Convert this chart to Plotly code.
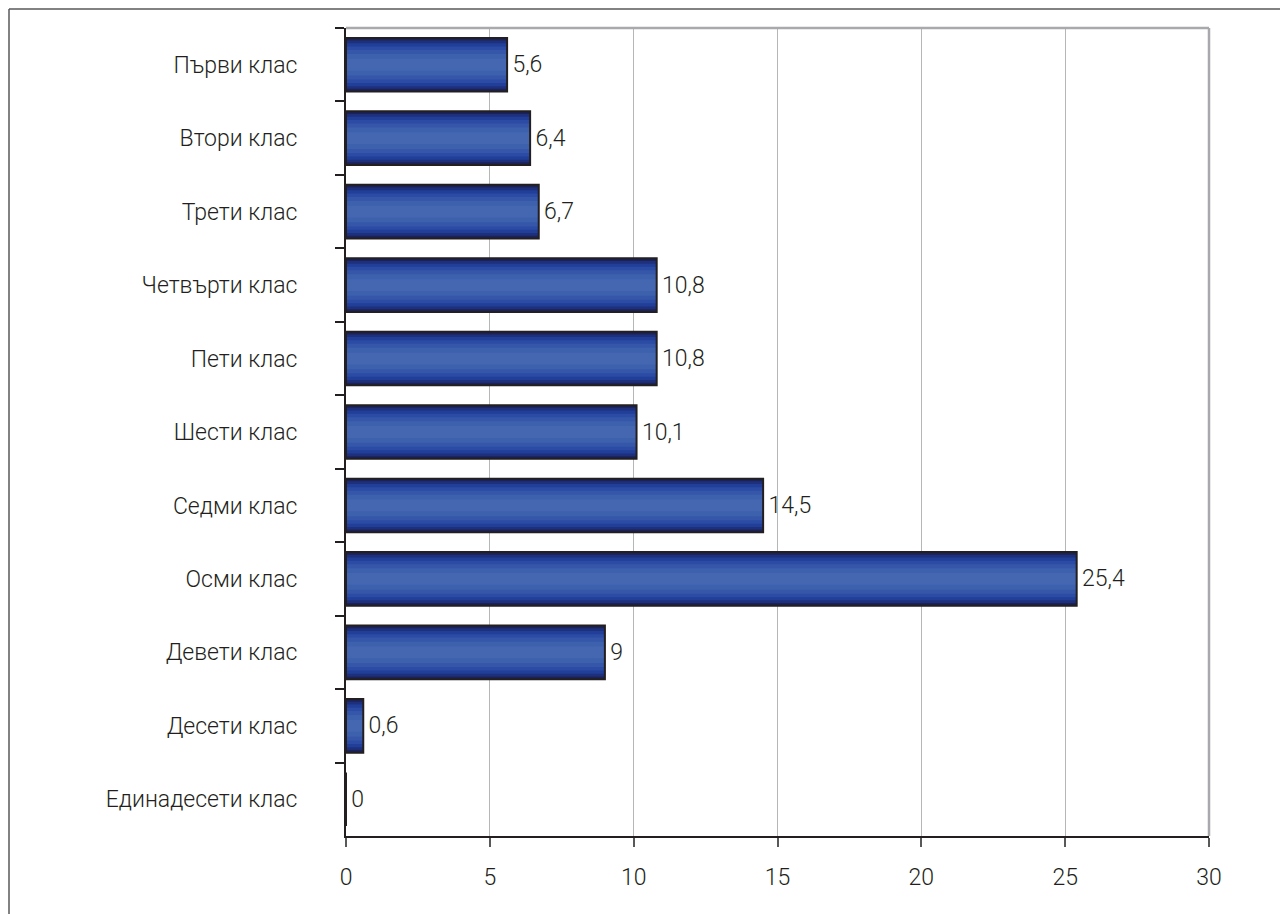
import plotly.graph_objects as go

# Share of pupils by grade
categories = [
    "Първи клас", "Втори клас", "Трети клас", "Четвърти клас", "Пети клас",
    "Шести клас", "Седми клас", "Осми клас", "Девети клас", "Десети клас",
    "Единадесети клас",
]
values = [5.6, 6.4, 6.7, 10.8, 10.8, 10.1, 14.5, 25.4, 9, 0.6, 0]
x_ticks = [0, 5, 10, 15, 20, 25, 30]

FONT = "Roboto, Liberation Sans, sans-serif"
FSIZE = 23
TEXT = "#231f20"
BAR_WIDTH = 0.73

# Shading layers for the cylinder-like bars: (fraction of full width, colour),
# from the dark outer rim towards the light centre stripe.
shade_layers = [
    (1.00, "#1a2259"),
    (0.90, "#1e307c"),
    (0.80, "#213e98"),
    (0.68, "#2b4ba4"),
    (0.55, "#3657a9"),
    (0.40, "#3e61ae"),
    (0.22, "#4567b2"),
]

fig = go.Figure()
for frac, colour in shade_layers:
    fig.add_trace(go.Bar(
        x=values, y=categories, orientation="h",
        width=BAR_WIDTH * frac,
        marker=dict(color=colour, line=dict(width=0)),
        hoverinfo="skip", showlegend=False,
    ))

# Outline and value labels on top
fig.add_trace(go.Bar(
    x=values, y=categories, orientation="h",
    width=BAR_WIDTH,
    marker=dict(color="rgba(0,0,0,0)", line=dict(color=TEXT, width=2)),
    texttemplate="\u200a%{x}", textposition="outside", cliponaxis=False,
    textfont=dict(family=FONT, size=FSIZE, color=TEXT, weight=300),
    showlegend=False,
))

L, R, T, B = 346, 71, 28, 78
W, H = 1280, 914
pw, ph = W - L - R, H - T - B

def px_x(px):
    return (px - L) / pw

def px_y(py):
    return (H - B - py) / ph

shapes = [
    # plot frame: top and right in light grey
    dict(type="line", xref="paper", yref="paper", x0=0, x1=1, y0=1, y1=1,
         line=dict(color="#a7a9ac", width=2.5)),
    dict(type="line", xref="paper", yref="paper", x0=1, x1=1, y0=0, y1=1,
         line=dict(color="#a7a9ac", width=2.5)),
    # outer frame of the figure
    dict(type="line", xref="paper", yref="paper", x0=px_x(9), x1=px_x(1280),
         y0=px_y(9), y1=px_y(9), line=dict(color="#58595b", width=1.5)),
    dict(type="line", xref="paper", yref="paper", x0=px_x(9), x1=px_x(9),
         y0=px_y(9), y1=px_y(914), line=dict(color="#58595b", width=1.5)),
]

fig.update_layout(
    width=W, height=H,
    margin=dict(l=L, r=R, t=T, b=B, pad=0),
    paper_bgcolor="white", plot_bgcolor="white",
    barmode="overlay",
    separators=", ",
    font=dict(family=FONT, size=FSIZE, color=TEXT, weight=300),
    shapes=shapes,
    xaxis=dict(
        range=[0, 30], tickvals=x_ticks, ticks="outside", ticklen=9,
        tickcolor="#58595b", tickwidth=1.5,
        showgrid=True, gridcolor="#b5b6b8", gridwidth=1,
        showline=True, linecolor="#231f20", linewidth=2,
        zeroline=False, ticklabelstandoff=10,
        tickfont=dict(family=FONT, size=FSIZE, color=TEXT, weight=300),
    ),
    yaxis=dict(
        categoryorder="array", categoryarray=categories,
        autorange="reversed",
        tickson="boundaries", ticks="outside", ticklen=9,
        tickcolor="#231f20", tickwidth=1.5,
        showgrid=False, showline=True, linecolor="#231f20", linewidth=2,
        ticklabelstandoff=42,
        tickfont=dict(family=FONT, size=FSIZE, color=TEXT, weight=300),
    ),
)

fig.write_html("out.html")
